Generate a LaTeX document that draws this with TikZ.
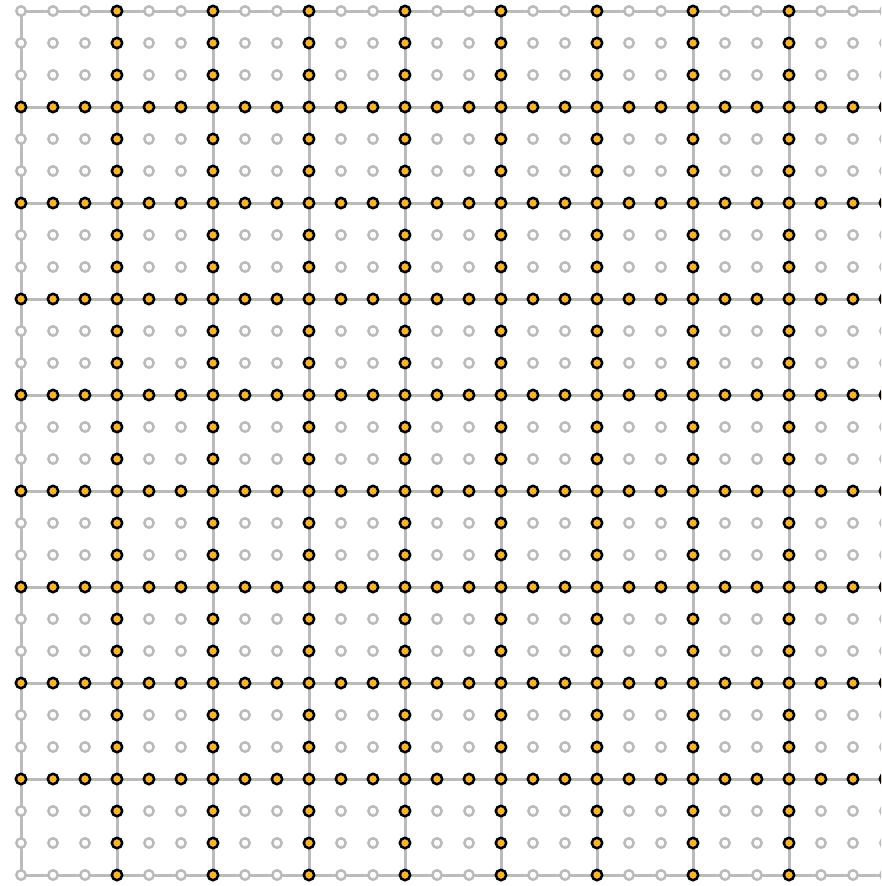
\documentclass[tikz,border=0pt]{standalone}
\definecolor{gridgray}{HTML}{BBBBBB}
\definecolor{dotgold}{HTML}{F4B334}
\tikzset{
  gline/.style={draw=gridgray, line width=3pt},
  plaindot/.style={circle, draw=gridgray, fill=white, line width=2.5pt, minimum size=9.4pt, inner sep=0pt},
  hidot/.style={circle, draw=black, fill=dotgold, line width=2.5pt, minimum size=10.4pt, inner sep=0pt},
}
\begin{document}
\begin{tikzpicture}[x=1pt,y=-1pt]
\useasboundingbox (0,0) rectangle (881,886);
\clip (0,0) rectangle (881,886);
% grid lines
\foreach \r in {0,3,...,27} {
  \draw[gline] (21,{11+32*\r}) -- (890,{11+32*\r});
}
\foreach \c in {0,3,...,27} {
  \draw[gline] ({21+32*\c},11) -- ({21+32*\c},875);
}
% dots
\foreach \c in {0,...,27} {
  \foreach \r in {0,...,27} {
    \pgfmathtruncatemacro{\cm}{mod(\c,3)}
    \pgfmathtruncatemacro{\rm}{mod(\r,3)}
    \pgfmathtruncatemacro{\hi}{((\cm==0 && \c>0 && \c<27) || (\rm==0 && \r>0 && \r<27)) ? 1 : 0}
    \ifnum\hi=1
      \node[hidot] (d-\c-\r) at ({21+32*\c},{11+32*\r}) {};
    \else
      \node[plaindot] (d-\c-\r) at ({21+32*\c},{11+32*\r}) {};
    \fi
  }
}
\end{tikzpicture}
\end{document}
